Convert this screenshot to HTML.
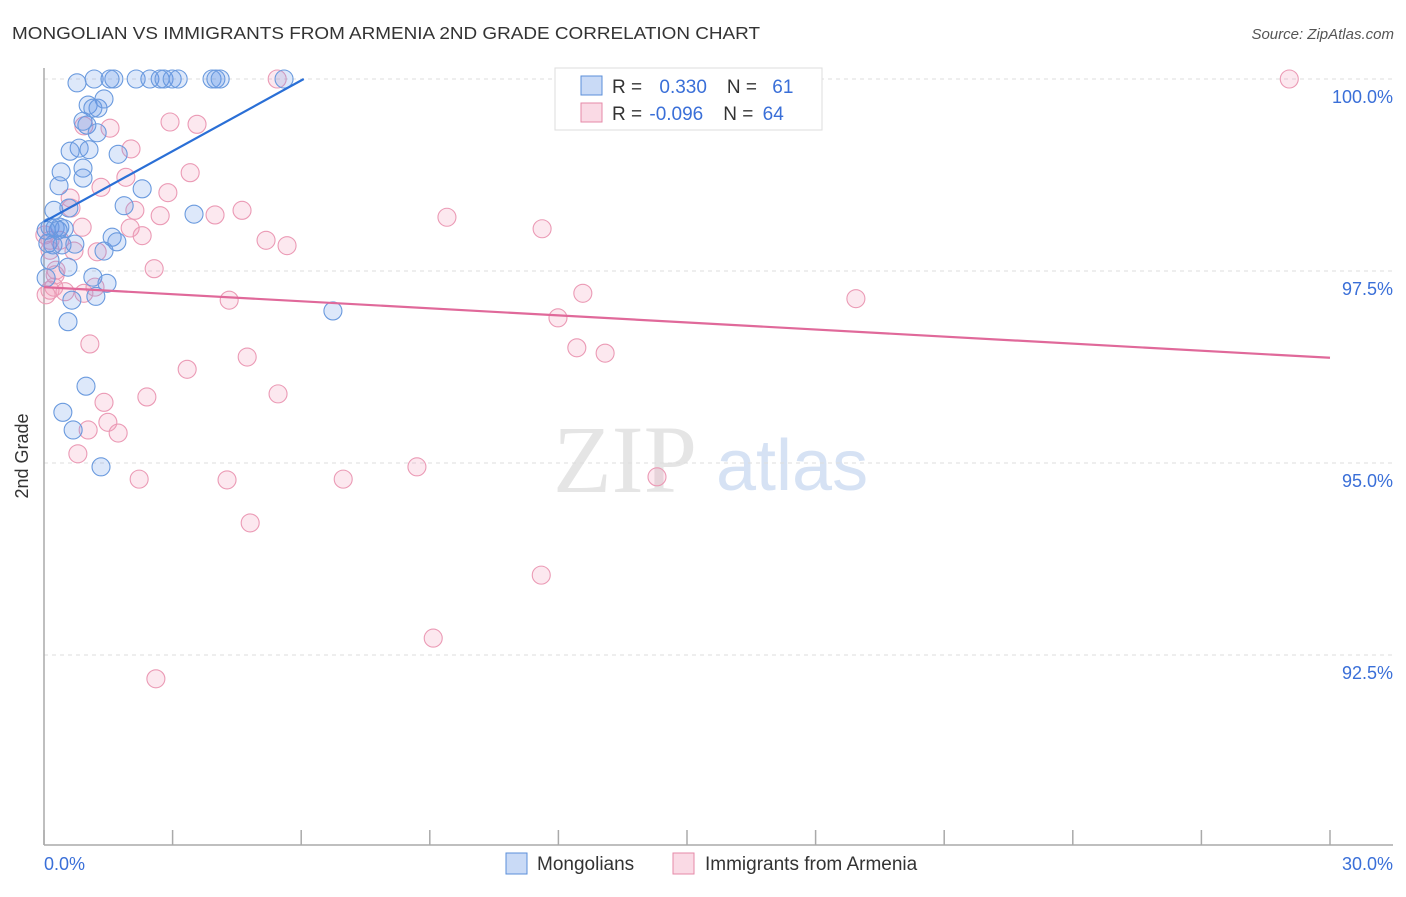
<!DOCTYPE html>
<html><head><meta charset="utf-8"><style>
body{margin:0;background:#fff;font-family:"Liberation Sans",sans-serif;}
</style></head><body>
<svg width="1406" height="892" xmlns="http://www.w3.org/2000/svg" style="font-family:'Liberation Sans',sans-serif">
<text x="12" y="39" font-size="17.5" fill="#333" textLength="748" lengthAdjust="spacingAndGlyphs">MONGOLIAN VS IMMIGRANTS FROM ARMENIA 2ND GRADE CORRELATION CHART</text>
<text x="1394" y="39" font-size="15" fill="#555" font-style="italic" text-anchor="end">Source: ZipAtlas.com</text>
<g>
<text x="553" y="492" font-size="96" font-family="'Liberation Serif',serif" fill="#d4d4d4" opacity="0.6">ZIP</text>
<text x="716" y="490" font-size="72" fill="#bcd0ee" opacity="0.6">atlas</text>
</g>
<g id="grid"></g>
<line x1="44" y1="68" x2="44" y2="845" stroke="#aaa" stroke-width="1.5"/>
<line x1="44" y1="845" x2="1393" y2="845" stroke="#aaa" stroke-width="1.5"/>
<g id="xticks"></g>
<text x="28" y="456" font-size="18" fill="#333" text-anchor="middle" transform="rotate(-90 28 456)">2nd Grade</text>
<text x="44" y="870" font-size="18" fill="#3a6fd8">0.0%</text>
<text x="1393" y="870" font-size="18" fill="#3a6fd8" text-anchor="end">30.0%</text>
<g id="points"></g>
<g id="trends"></g>
<g>
<rect x="555" y="68" width="267" height="62" fill="#fff" stroke="#ddd"/>
<rect x="581" y="76" width="21" height="19" fill="rgba(100,150,230,0.35)" stroke="#5b8fd9"/>
<rect x="581" y="103" width="21" height="19" fill="rgba(240,150,180,0.35)" stroke="#e68aa8"/>
<text x="612" y="93" font-size="19" fill="#333">R = <tspan fill="#3a6fd8" dx="12">0.330</tspan><tspan dx="20" fill="#333">N = </tspan><tspan fill="#3a6fd8" dx="10">61</tspan></text>
<text x="612" y="120" font-size="19" fill="#333">R = <tspan fill="#3a6fd8" dx="2">-0.096</tspan><tspan dx="20" fill="#333">N = </tspan><tspan fill="#3a6fd8" dx="4">64</tspan></text>
</g>
<g>
<rect x="506" y="853" width="21" height="21" fill="rgba(100,150,230,0.35)" stroke="#5b8fd9"/>
<text x="537" y="870" font-size="19" fill="#333">Mongolians</text>
<rect x="673" y="853" width="21" height="21" fill="rgba(240,150,180,0.35)" stroke="#e68aa8"/>
<text x="705" y="870" font-size="19" fill="#333">Immigrants from Armenia</text>
</g>
</svg>
<script>
const yTicks=[100,97.5,95,92.5];
const yTickLabels=["100.0%","97.5%","95.0%","92.5%"];
const xTicks=[0,3,6,9,12,15,18,21,24,27,30];
const blueX=[0.77,1.17,1.63,1.54,2.15,2.47,2.71,2.80,2.99,3.13,3.92,4.01,4.11,5.60,1.03,1.26,1.40,1.14,0.91,1.00,1.24,0.82,0.61,1.05,1.73,0.91,0.91,0.40,0.35,2.29,1.87,0.58,0.23,3.50,0.37,0.14,0.26,0.47,1.59,1.70,1.40,0.42,0.05,0.21,0.56,1.14,1.47,1.21,0.05,0.65,0.56,6.74,0.98,0.44,0.68,1.33,0.09,0.72,0.33,0.14];
const blueY=[99.95,100,100,100,100,100,100,100,100,100,100,100,100,100,99.66,99.62,99.74,99.62,99.45,99.40,99.30,99.10,99.06,99.08,99.02,98.84,98.71,98.79,98.61,98.57,98.35,98.32,98.29,98.24,98.07,98.07,98.06,98.05,97.94,97.88,97.76,97.84,98.03,97.84,97.55,97.42,97.34,97.17,97.41,97.12,96.84,96.98,96.00,95.66,95.43,94.95,97.86,97.85,98.03,97.64];
const pinkX=[5.44,29.05,2.94,3.57,1.54,0.93,2.03,3.41,1.91,1.33,2.89,0.61,0.63,2.12,2.71,3.99,4.62,9.40,11.62,0.89,2.01,2.29,5.18,5.67,1.24,0.70,0.37,0.14,0.28,2.57,0.14,0.23,0.49,0.93,1.19,4.32,12.57,18.94,11.99,12.43,13.09,1.07,3.34,4.74,2.40,1.40,5.46,1.49,1.03,1.73,0.79,2.22,4.27,6.98,8.70,14.30,4.81,11.60,9.08,2.61,0.02,0.05,0.26,0.14];
const pinkY=[100,100,99.44,99.41,99.36,99.39,99.09,98.78,98.72,98.59,98.52,98.45,98.32,98.29,98.22,98.23,98.29,98.20,98.05,98.07,98.06,97.96,97.90,97.83,97.75,97.76,97.90,97.90,97.51,97.53,97.25,97.29,97.23,97.21,97.29,97.12,97.21,97.14,96.89,96.50,96.43,96.55,96.22,96.38,95.86,95.79,95.90,95.53,95.43,95.39,95.12,94.79,94.78,94.79,94.95,94.82,94.22,93.54,92.72,92.19,97.97,97.19,97.45,97.77];
const blueTrend=[[0,98.14],[6.06,100]];
const pinkTrend=[[0,97.29],[30,96.37]];
const NS="http://www.w3.org/2000/svg";
const sx=v=>44+v/30*1286;
const sy=v=>79+(100-v)/2.5*192;
function mk(tag,attrs,parent){const e=document.createElementNS(NS,tag);for(const k in attrs)e.setAttribute(k,attrs[k]);parent.appendChild(e);return e;}
const grid=document.getElementById('grid');
yTicks.forEach((t,i)=>{
  const l=mk('line',{x1:44,x2:1393,y1:sy(t),y2:sy(t),stroke:'#ddd','stroke-dasharray':'4,4'},grid);
  
  
  const tx=mk('text',{x:1393,y:sy(t)+24,'font-size':18,fill:'#3a6fd8','text-anchor':'end'},grid);
  tx.textContent=yTickLabels[i];
  
  
});
const xt=document.getElementById('xticks');
xTicks.forEach(t=>{
  const l=mk('line',{x1:sx(t),x2:sx(t),y1:830,y2:845,stroke:'#aaa','stroke-width':1.5},xt);
  
  
});
const pts=document.getElementById('points');
pinkX.forEach((x,i)=>{
  const c=mk('circle',{cx:sx(x),cy:sy(pinkY[i]),r:9,fill:'rgba(240,150,180,0.22)',stroke:'#eb9ab5','stroke-width':1.1},pts);
  
  
});
blueX.forEach((x,i)=>{
  const c=mk('circle',{cx:sx(x),cy:sy(blueY[i]),r:9,fill:'rgba(100,150,230,0.22)',stroke:'#6a9ade','stroke-width':1.1},pts);
  
  
});
const tr=document.getElementById('trends');
const b=mk('line',{x1:sx(blueTrend[0][0]),y1:sy(blueTrend[0][1]),x2:sx(blueTrend[1][0]),y2:sy(blueTrend[1][1]),stroke:'#2a6fd6','stroke-width':2.2},tr);


const p=mk('line',{x1:sx(pinkTrend[0][0]),y1:sy(pinkTrend[0][1]),x2:sx(pinkTrend[1][0]),y2:sy(pinkTrend[1][1]),stroke:'#e0699a','stroke-width':2.2},tr);


</script>
</body></html>
